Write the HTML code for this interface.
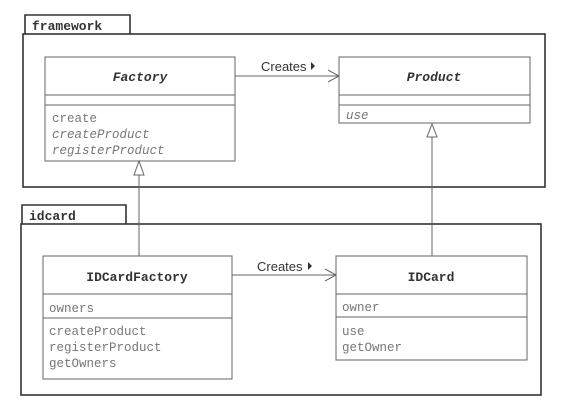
<!DOCTYPE html>
<html><head><style>
body{margin:0;background:#fff}
svg text{font-family:"Liberation Mono",monospace;fill:#777;font-size:12.5px}
.b{font-weight:bold;fill:#333;font-size:13px}
.i{font-style:italic}
.s{font-family:"Liberation Sans",sans-serif;fill:#333;font-size:13px}
</style></head><body>
<svg width="569" height="413" viewBox="0 0 569 413" xmlns="http://www.w3.org/2000/svg">
<g fill="none" stroke="#333" stroke-width="1.6">
<path d="M25 34V15H130V34"/>
<rect x="23" y="34" width="522" height="153"/>
<path d="M22 224V205H126V224"/>
<rect x="21" y="224" width="520" height="171"/>
</g>
<text x="32" y="30" class="b">framework</text>
<text x="29" y="220" class="b">idcard</text>
<g fill="#fff" stroke="#666" stroke-width="1">
<rect x="45" y="57" width="190" height="104"/>
<path d="M45 95H235M45 105H235" fill="none"/>
<rect x="339" y="57" width="191" height="66"/>
<path d="M339 95H530M339 105H530" fill="none"/>
<rect x="43" y="256" width="189" height="123"/>
<path d="M43 294H232M43 318H232" fill="none"/>
<rect x="336" y="256" width="191" height="104"/>
<path d="M336 294H527M336 317H527" fill="none"/>
<path d="M235 76H339M328 70L339 76L328 82" fill="none"/>
<path d="M232 275H336M325 269L336 275L325 281" fill="none"/>
<path d="M139 175V256M432 137V256" fill="none"/>
<path d="M139 161L134 175H144Z"/>
<path d="M432 124L427 137H437Z"/>
</g>
<path d="M311 62L315 66L311 70Z M308 262L312 266L308 270Z" fill="#333"/>
<text x="261" y="71" class="s">Creates</text>
<text x="257" y="271" class="s">Creates</text>
<text x="140" y="81" class="b i" text-anchor="middle">Factory</text>
<text x="52" y="122" class="">create</text>
<text x="52" y="138" class="i">createProduct</text>
<text x="52" y="154" class="i">registerProduct</text>
<text x="434" y="81" class="b i" text-anchor="middle">Product</text>
<text x="346" y="119" class="i">use</text>
<text x="137" y="281" class="b" text-anchor="middle">IDCardFactory</text>
<text x="49" y="312">owners</text>
<text x="49" y="335">createProduct</text>
<text x="49" y="351">registerProduct</text>
<text x="49" y="367">getOwners</text>
<text x="431" y="281" class="b" text-anchor="middle">IDCard</text>
<text x="342" y="311">owner</text>
<text x="342" y="335">use</text>
<text x="342" y="351">getOwner</text>
</svg>
</body></html>
